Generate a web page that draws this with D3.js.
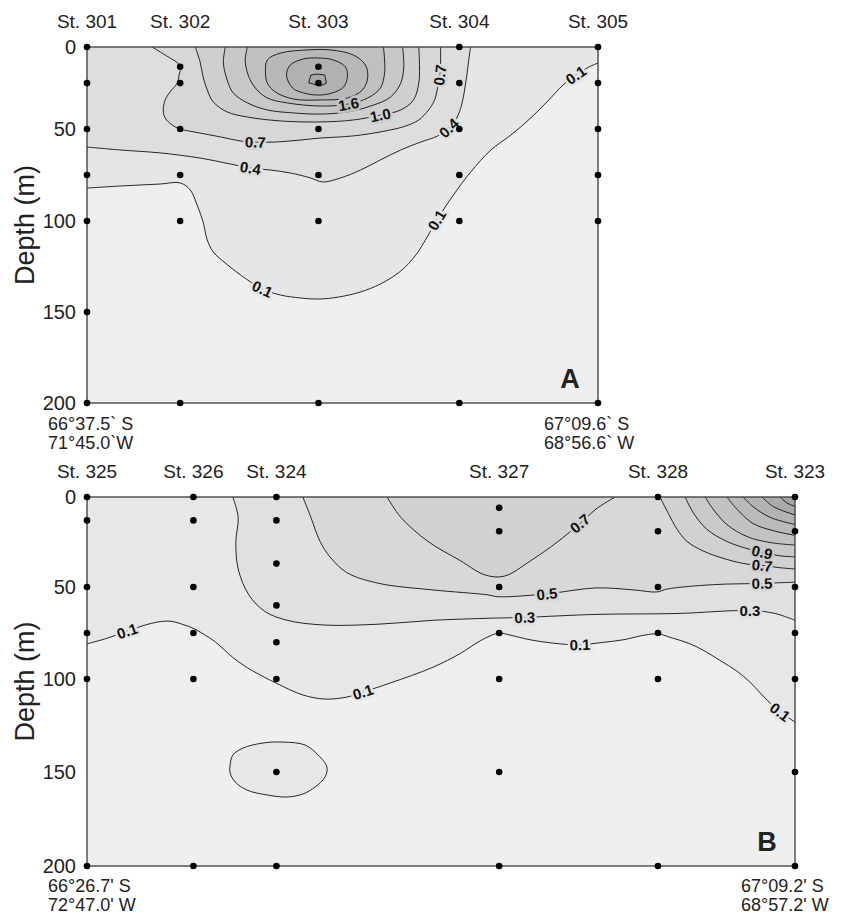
<!DOCTYPE html>
<html>
<head>
<meta charset="utf-8">
<script src="https://cdn.jsdelivr.net/npm/d3@7"></script>
<style>
  body { margin: 0; background: #fff; }
  text { font-family: "Liberation Sans", Arial, sans-serif; fill: #222; }
  .clab { font-weight: bold; font-size: 15px; fill: #111; }
</style>
</head>
<body>
<svg width="847" height="916"></svg>
<script>
// ---- data: section A ----
var stationsA = ["St. 301", "St. 302", "St. 303", "St. 304", "St. 305"];
var stationKmA = [0, 24.8, 61.6, 99.1, 136];
var samplesA = [
  [0, 22, 50, 75, 100, 150, 200],
  [12, 22, 50, 75, 100, 200],
  [12, 22, 50, 75, 100, 200],
  [0, 22, 50, 75, 100, 200],
  [0, 22, 50, 75, 100, 200]
];
var coordsA = [["66°37.5` S", "71°45.0`W"], ["67°09.6` S", "68°56.6` W"]];

// contour lines, [km along section, depth m]
var contoursA = [
  { level: 0.1, shape: "open", pts: [[0,82.1],[8.8,81.0],[19.5,79.9],[24.8,79.3],[27.5,83.2],[29.3,91.3],[30.9,100.5],[32.0,110.4],[33.6,117.0],[37.1,123.6],[42.4,131.9],[46.7,137.4],[51.5,140.7],[56.8,142.3],[61.6,142.9],[66.9,141.8],[72.8,139.0],[78.1,134.6],[83.5,127.5],[87.5,118.7],[90.7,108.2],[93.1,99.5],[95.7,91.3],[98.1,84.2],[102.1,73.4],[107.5,61.4],[112.8,53.3],[118.1,43.3],[122.9,32.3],[126.7,23.2],[130.1,17.1],[133.6,12.2],[136,9.8]] },
  { level: 0.4, shape: "open", pts: [[0,59.8],[8.8,61.4],[19.5,63.0],[30.1,65.8],[38.1,69.0],[43.5,71.2],[48.8,72.3],[54.1,73.9],[59.5,76.6],[62.7,78.8],[67.5,76.6],[72.8,72.3],[78.1,66.8],[83.5,61.4],[88.8,57.1],[93.3,53.8],[96.3,49.4],[98.4,43.3],[99.7,35.4],[100.5,26.2],[101.1,17.1],[101.6,7.9],[102.1,0]] },
  { level: 0.7, shape: "open", pts: [[17.3,0],[20.8,4.9],[24.8,11.6],[24.5,17.1],[24.0,22.0],[22.1,27.4],[20.8,32.3],[20.3,38.4],[20.8,43.3],[22.7,47.6],[24.8,50.0],[30.1,52.2],[35.5,54.3],[40.8,56.5],[44.8,57.1],[50.1,57.1],[56.8,56.0],[62.1,54.9],[67.5,54.3],[72.8,53.3],[80.8,50.5],[84.8,48.2],[88.3,44.5],[90.9,38.4],[92.5,32.3],[93.3,25.0],[93.9,17.1],[94.1,9.1],[94.1,0]] },
  { level: 1.0, shape: "open", pts: [[28.8,0],[30.1,9.1],[30.9,18.3],[32.0,26.2],[33.6,33.5],[37.3,39.6],[42.7,42.7],[51.5,45.1],[62.1,45.7],[70.9,44.5],[78.1,41.5],[83.5,38.4],[86.9,32.3],[88.3,22.0],[88.5,12.2],[88.3,0]] },
  { level: 1.3, shape: "open", pts: [[36.8,0],[36.3,9.8],[37.3,20.1],[38.9,28.0],[42.7,34.1],[48.0,38.4],[54.9,40.2],[62.1,40.9],[69.3,39.6],[75.5,36.0],[80.8,30.5],[83.5,22.0],[84.3,12.2],[84.0,0]] },
  { level: 1.6, shape: "open", pts: [[42.7,0],[42.1,7.9],[42.9,17.1],[44.8,25.0],[48.0,31.1],[53.3,34.1],[62.1,36.0],[69.6,34.8],[74.7,31.1],[78.1,25.0],[79.2,15.9],[79.2,7.9],[78.9,0]] },
  { level: 1.9, shape: "loop", pts: [[47.5,15.9],[48.0,7.9],[51.5,3.7],[58.7,1.8],[64.8,1.8],[70.9,4.9],[74.1,11.0],[74.7,18.9],[73.3,26.2],[69.3,31.1],[62.1,32.3],[54.9,31.7],[50.1,27.4],[48.0,22.0]] },
  { level: 2.2, shape: "loop", pts: [[53.1,17.1],[54.1,11.0],[57.6,7.3],[61.6,6.7],[65.6,7.9],[68.8,12.2],[69.3,18.3],[68.3,24.4],[65.3,28.0],[61.6,29.3],[57.6,28.0],[54.7,25.0]] },
  { level: 2.5, shape: "poly", pts: [[59.6,17.1],[61.3,16.5],[63.3,17.1],[63.7,22.1],[62.1,23.8],[59.0,21.8]] }
];
// which contour (c) and which of its points (i) carries a label
var labelsA = [
  { c: 0, i: 11 }, { c: 0, i: 21 }, { c: 0, i: 30 },
  { c: 1, i: 5 }, { c: 1, i: 16 },
  { c: 2, i: 14 }, { c: 2, i: 26 },
  { c: 3, i: 10 }, { c: 5, i: 7 }
];

// ---- data: section B ----
var stationsB = ["St. 325", "St. 326", "St. 324", "St. 327", "St. 328", "St. 323"];
var stationKmB = [0, 27.8, 49.5, 107.7, 149.2, 185];
var samplesB = [
  [0, 13, 50, 75, 100, 200],
  [0, 13, 50, 75, 100, 200],
  [0, 13, 37, 60, 80, 100, 150, 200],
  [6, 19, 50, 75, 100, 150, 200],
  [0, 19, 50, 75, 100, 200],
  [0, 19, 50, 75, 100, 150, 200]
];
var coordsB = [["66°26.7' S", "72°47.0' W"], ["67°09.2' S", "68°57.2' W"]];

var contoursB = [
  { level: 0.1, shape: "open", pts: [[0,80.9],[5.5,77.7],[10.5,73.9],[15.2,70.7],[18.3,69.1],[21.7,68.6],[24.8,70.2],[28.2,72.9],[30.8,76.1],[33.2,79.3],[35.8,84.0],[38.1,88.3],[41.3,93.1],[43.9,96.3],[49.4,102.2],[56.4,108.6],[62.2,110.8],[67.9,109.7],[72.1,107.0],[79.2,102.2],[90.4,93.6],[97.5,86.2],[101.9,80.3],[105.3,76.6],[107.7,75.0],[110.5,76.1],[115.8,78.7],[123.6,80.9],[128.8,81.4],[134.0,80.3],[140.1,78.7],[145.8,76.1],[149.2,75.5],[152.9,77.7],[157.6,80.9],[161.2,84.6],[165.4,89.9],[169.8,95.7],[173.2,101.6],[175.9,107.5],[178.5,112.9],[181.1,117.7],[185,123.1]] },
  { level: 0.1, shape: "loop", pts: [[37.4,146.2],[38.1,140.9],[40.8,137.1],[46.0,134.4],[51.2,133.9],[57.0,135.5],[60.4,140.9],[62.7,147.3],[62.2,152.7],[59.6,158.0],[56.4,161.7],[52.3,163.3],[47.0,162.2],[41.8,159.6],[38.7,155.3],[37.4,150.5]] },
  { level: 0.3, shape: "open", pts: [[38.1,0],[39.5,11.3],[38.9,24.7],[39.5,40.0],[42.3,54.3],[46.5,63.3],[52.3,68.1],[62.2,70.7],[76.3,70.2],[90.4,68.1],[104.8,67.0],[114.4,66.5],[133.0,64.9],[154.2,64.4],[173.2,62.8],[179.8,64.4],[185,68.1]] },
  { level: 0.5, shape: "open", pts: [[56.4,0],[58.5,11.3],[60.9,24.7],[63.5,33.3],[67.9,42.0],[76.3,48.0],[90.4,51.6],[104.8,54.3],[107.4,55.3],[120.2,53.7],[133.0,50.5],[142.9,51.6],[148.9,52.7],[151.6,51.1],[163.6,48.7],[176.4,48.0],[185,47.3]] },
  { level: 0.7, shape: "open", pts: [[78.4,0],[82.0,11.3],[89.1,24.7],[97.5,35.3],[104.0,43.3],[109.0,44.0],[116.0,35.3],[123.1,24.7],[128.8,14.7],[133.0,6.7],[138.0,0]] },
  { level: 0.7, shape: "open", pts: [[149.7,0],[151.8,8.7],[154.2,18.0],[156.8,24.7],[161.0,30.0],[167.2,34.7],[172.5,37.3],[176.4,38.0],[181.1,39.3],[185,40.0]] },
  { level: 0.9, shape: "open", pts: [[156.3,0],[158.4,8.7],[162.0,18.0],[167.2,24.7],[172.5,28.7],[176.4,30.7],[181.1,32.7],[185,33.3]] },
  { level: 1.1, shape: "open", pts: [[161.5,0],[163.6,6.7],[167.2,15.3],[172.5,22.0],[178.5,25.3],[185,26.7]] },
  { level: 1.3, shape: "open", pts: [[167.2,0],[169.8,6.7],[174.0,14.7],[179.3,18.7],[185,21.3]] },
  { level: 1.5, shape: "open", pts: [[171.4,0],[174.0,5.3],[178.5,11.3],[185,15.3]] },
  { level: 1.7, shape: "open", pts: [[176.4,0],[179.3,5.3],[185,10.0]] },
  { level: 1.9, shape: "open", pts: [[181.1,0],[182.9,3.3],[185,5.3]] }
];
var labelsB = [
  { c: 0, i: 2 }, { c: 0, i: 18 }, { c: 0, i: 28 }, { c: 0, i: 41 },
  { c: 2, i: 11 }, { c: 2, i: 14 },
  { c: 3, i: 9 }, { c: 3, i: 15 },
  { c: 4, i: 8 }, { c: 5, i: 7 }, { c: 6, i: 5 }
];

var depthTicks = [0, 50, 100, 150, 200];

var svg = d3.select("svg");

function drawPanel(p) {
  var g = svg.append("g");
  var x = d3.scaleLinear().domain([0, p.km[p.km.length - 1]]).range([87, p.right]);
  var y = d3.scaleLinear().domain(depthTicks).range(p.yRange);
  var top = y(0), bottom = y(200), left = x(0), right = x(x.domain()[1]);

  var color = d3.scaleLinear().domain(p.colorDomain).range(p.colorRange);

  var clipId = "clip" + p.name;
  g.append("clipPath").attr("id", clipId)
    .append("rect").attr("x", left).attr("y", top)
    .attr("width", right - left).attr("height", bottom - top);

  var lineOpen = d3.line().x(function(d) { return x(d[0]); }).y(function(d) { return y(d[1]); })
    .curve(d3.curveCatmullRom.alpha(0.5));
  var lineLoop = d3.line().x(function(d) { return x(d[0]); }).y(function(d) { return y(d[1]); })
    .curve(d3.curveCatmullRomClosed.alpha(0.5));
  var linePoly = d3.line().x(function(d) { return x(d[0]); }).y(function(d) { return y(d[1]); })
    .curve(d3.curveLinearClosed);

  function stroke(c) {
    if (c.shape == "loop") return lineLoop(c.pts);
    if (c.shape == "poly") return linePoly(c.pts);
    return lineOpen(c.pts);
  }
  // region on the high side of a line: close it along the top of the section
  function area(c) {
    if (c.shape != "open") return stroke(c);
    var s = lineOpen(c.pts), a = c.pts[0], b = c.pts[c.pts.length - 1];
    var xmax = x.domain()[1];
    if (b[0] >= xmax && b[1] > 0) s += "L" + x(xmax) + "," + y(0);
    if (a[0] <= 0 && a[1] > 0) s += "L" + x(0) + "," + y(0);
    return s + "Z";
  }

  var plot = g.append("g").attr("clip-path", "url(#" + clipId + ")");
  plot.append("rect").attr("x", left).attr("y", top)
    .attr("width", right - left).attr("height", bottom - top).attr("fill", "#eeefee");

  var sorted = p.contours.slice().sort(function(a, b) { return a.level - b.level; });
  plot.selectAll("path.fill").data(sorted).enter().append("path")
    .attr("class", "fill").attr("d", area)
    .attr("fill", function(c) { return color(c.level); }).attr("stroke", "none");

  plot.selectAll("path.iso").data(p.contours).enter().append("path")
    .attr("class", "iso").attr("d", stroke)
    .attr("fill", "none").attr("stroke", "#111").attr("stroke-width", 0.9);

  // contour labels, turned along the line
  p.labels.forEach(function(l) {
    var c = p.contours[l.c], pts = c.pts;
    var P = pts[l.i], A = pts[Math.max(0, l.i - 1)], B = pts[Math.min(pts.length - 1, l.i + 1)];
    var ang = Math.atan2(y(B[1]) - y(A[1]), x(B[0]) - x(A[0])) * 180 / Math.PI;
    if (ang > 90) ang -= 180;
    if (ang < -90) ang += 180;
    plot.append("text").attr("class", "clab")
      .attr("transform", "translate(" + x(P[0]) + "," + y(P[1]) + ") rotate(" + ang + ")")
      .attr("text-anchor", "middle").attr("dy", "0.36em")
      .attr("stroke", color(c.level)).attr("stroke-width", 5).attr("paint-order", "stroke")
      .text(d3.format(".1f")(c.level));
  });

  // frame
  g.append("rect").attr("x", left).attr("y", top)
    .attr("width", right - left).attr("height", bottom - top)
    .attr("fill", "none").attr("stroke", "#3a3a3a").attr("stroke-width", 1.3);

  // sampling depths
  p.samples.forEach(function(depths, i) {
    g.selectAll(null).data(depths).enter().append("circle")
      .attr("cx", x(p.km[i])).attr("cy", function(d) { return y(d); })
      .attr("r", 3.3).attr("fill", "#000");
  });

  // depth axis
  var ax = g.append("g").attr("transform", "translate(" + left + ",0)")
    .call(d3.axisLeft(y).tickValues(depthTicks).tickSize(0).tickPadding(11));
  ax.select(".domain").remove();
  ax.selectAll("text").style("font-size", "20px").style("font-family", "'Liberation Sans', Arial, sans-serif").attr("fill", "#222");

  g.append("text").attr("transform", "translate(34," + ((top + bottom) / 2) + ") rotate(-90)")
    .attr("text-anchor", "middle").style("font-size", "27px").text("Depth (m)");

  // station names
  g.selectAll("text.st").data(p.stations).enter().append("text")
    .attr("class", "st").attr("x", function(d, i) { return x(p.km[i]); })
    .attr("y", top - 19).attr("text-anchor", "middle").style("font-size", "19px")
    .text(function(d) { return d; });

  // end positions
  [[48, p.coords[0]], [right - 54, p.coords[1]]].forEach(function(e) {
    e[1].forEach(function(t, k) {
      g.append("text").attr("x", e[0]).attr("y", bottom + p.latDy + k * 19)
        .style("font-size", "18px").text(t);
    });
  });

  g.append("text").attr("x", right - 28).attr("y", bottom - 15)
    .attr("text-anchor", "middle").style("font-size", "27px").style("font-weight", "bold")
    .text(p.name);
}

drawPanel({
  name: "A", km: stationKmA, right: 598, yRange: [47, 129, 221, 312, 403], latDy: 27,
  stations: stationsA, samples: samplesA, coords: coordsA,
  contours: contoursA, labels: labelsA,
  colorDomain: [0.1, 2.5], colorRange: ["#e6e6e7", "#a9a9a9"]
});
drawPanel({
  name: "B", km: stationKmB, right: 795, yRange: [497, 587, 679, 772, 866], latDy: 26,
  stations: stationsB, samples: samplesB, coords: coordsB,
  contours: contoursB, labels: labelsB,
  colorDomain: [0.1, 1.9], colorRange: ["#e7e7e8", "#a4a4a4"]
});
</script>
</body>
</html>
